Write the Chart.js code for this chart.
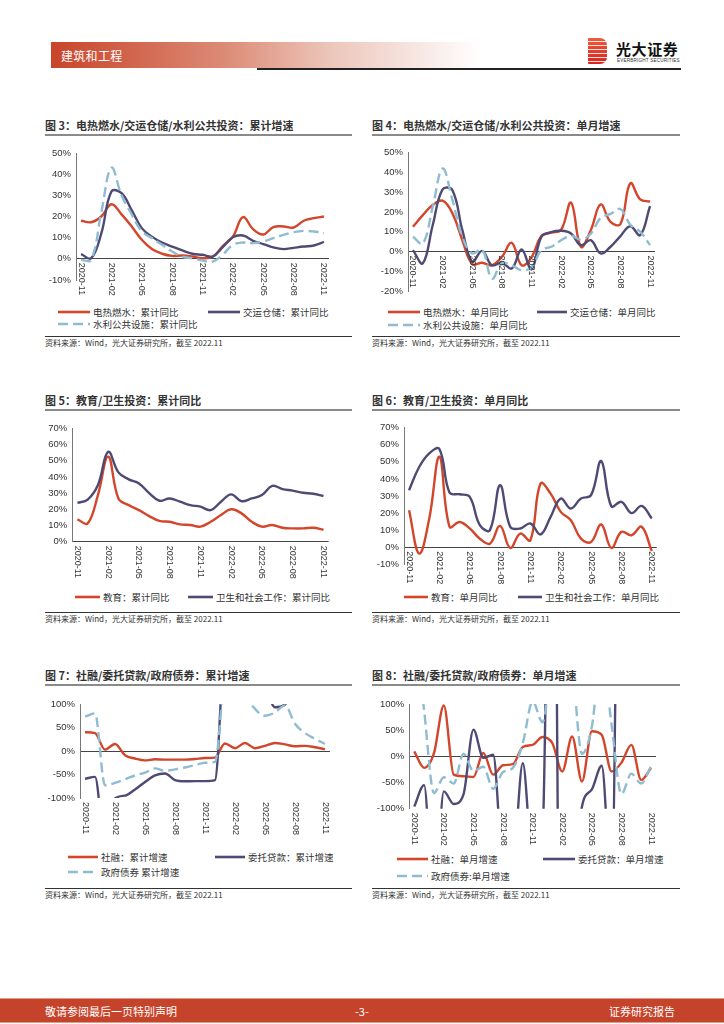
<!DOCTYPE html>
<html lang="zh-CN">
<head>
<meta charset="UTF-8" />
<title>建筑和工程</title>
<script src="https://cdn.jsdelivr.net/npm/chart.js"></script>
<style>
  body {
    margin: 0;
    width: 724px;
    height: 1024px;
    position: relative;
    overflow: hidden;
    background: #fff;
    font-family: 'Noto Sans CJK SC', sans-serif;
    color: #333;
  }
  .abs { position: absolute; }
  canvas { position: absolute; }

  .band {
    left: 51px; top: 42px; width: 430px; height: 26px;
    background: linear-gradient(to right, #c8442a 0%, #dc8a75 40%, #ecc6bb 65%, #fff 100%);
  }
  .band span {
    position: absolute; left: 10px; top: 5px;
    color: #fff; font-size: 12px; letter-spacing: 0.3px;
  }
  .hline { left: 257px; top: 68px; width: 424px; height: 2px; background: #222; }
  .logo-icon {
    left: 588px; top: 38px; width: 19px; height: 26px;
    border-radius: 1px 7px 7px 1px;
    background:
      repeating-linear-gradient(to bottom, transparent 0 3px, rgba(255,255,255,0.85) 3px 4px),
      linear-gradient(to bottom, #ee5b3a, #d8231f);
  }
  .logo-name { left: 616px; top: 38px; font-size: 15px; font-weight: bold; color: #111; letter-spacing: 0.6px; }
  .logo-en { left: 617px; top: 58px; font-size: 4.6px; color: #333; letter-spacing: 0.2px; font-family: 'Liberation Sans', sans-serif; }

  .title { font-size: 11px; font-weight: bold; color: #333; white-space: nowrap; }
  .rule { height: 2px; background: #8a8a8a; }
  .srcline { height: 1px; background: #333; }
  .src { font-size: 8px; color: #333; white-space: nowrap; }
  .leg { font-size: 9.5px; color: #333; white-space: nowrap; display: flex; align-items: center; }
  .leg svg { margin-right: 3px; }

  .footer {
    left: 0; top: 998px; width: 724px; height: 23px;
    background: #c5432a;
    border-top: 1px solid #e29a87;
    border-bottom: 1px solid #e29a87;
    color: #fff; font-size: 11px;
  }
  .footer span { position: absolute; top: 4px; }
</style>
</head>
<body>

<div class="abs band"><span>建筑和工程</span></div>
<div class="abs hline"></div>
<div class="abs logo-icon"></div>
<div class="abs logo-name">光大证券</div>
<div class="abs logo-en">EVERBRIGHT SECURITIES</div>

<div id="panels"></div>

<canvas id="c3"></canvas>
<canvas id="c4"></canvas>
<canvas id="c5"></canvas>
<canvas id="c6"></canvas>
<canvas id="c7"></canvas>
<canvas id="c8"></canvas>

<div class="abs footer">
  <span style="left:45px">敬请参阅最后一页特别声明</span>
  <span style="left:355px">-3-</span>
  <span style="left:609px">证券研究报告</span>
</div>

<script>
  // monthly, 2020-11 .. 2022-11
  const months = ['2020-11','2020-12','2021-01','2021-02','2021-03','2021-04','2021-05','2021-06','2021-07','2021-08','2021-09','2021-10','2021-11','2021-12','2022-01','2022-02','2022-03','2022-04','2022-05','2022-06','2022-07','2022-08','2022-09','2022-10','2022-11'];

  // 图3 累计
  const elecCum  = [18, 17.3, 20, 25.8, 21, 15.3, 9, 4.6, 2.4, 1.4, 1.6, 1.1, 0.3, 1, 6, 10.5, 19.7, 14, 11.5, 15, 15.3, 14.8, 18, 19.2, 20];
  const transCum = [2.2, 0.3, 12, 31.8, 31, 23, 14.5, 10.5, 7.7, 5.8, 4, 2.4, 1.9, 1.1, 5.5, 10.2, 11, 8.5, 7, 5.4, 4.6, 5.2, 5.8, 6.3, 8];
  const waterCum = [-0.5, -0.5, 22, 43, 30, 21, 13, 9.8, 6.6, 3.5, 1, 0.3, -0.8, -1.3, 2, 6.6, 7.7, 7.4, 8.2, 9.8, 11.3, 12.6, 13.2, 12.9, 12.1];

  // 图4 单月
  const elecMon  = [12.5, 18.4, 23.5, 25.7, 19.3, 5.7, -6.4, -5.7, -7, -2.7, 4.4, -7, -3, 7.8, 9.5, 11, 24.7, 2.4, 10.8, 23.8, 15, 13.9, 34.5, 26.4, 25.3];
  const transMon = [0.7, -6, 13.3, 31.4, 31, 10.8, -5.2, 0.3, -7, -5.7, -8.6, 1, -9, 7.4, 9.8, 10.5, 9.1, 3.2, 5.7, -1, 2.4, 7.8, 12.8, 8.3, 23];
  const waterMon = [7.4, 4, 22.6, 42, 26, 7.4, -1, 1, -13.7, -6, -7, -9.5, -8, 0.7, 2.4, 5.7, 8, 6, 9, 17, 19, 21.5, 13.5, 10, 3.2];

  // 图5 累计
  const eduCum    = [13.8, 11.3, 28.8, 52.5, 26.7, 22.6, 19.5, 15.8, 12.8, 12.3, 10.7, 10.3, 9.3, 12.3, 16.5, 20, 17.5, 12.3, 9.3, 10.3, 8.6, 8.2, 8.2, 8.6, 7.4];
  const healthCum = [24, 26, 35, 55.5, 42.8, 38.5, 36, 30, 25.3, 26.7, 24.7, 22.6, 21.6, 19.5, 24.7, 29.2, 25, 26.7, 28.8, 34.4, 32.5, 31.5, 30.2, 29.6, 28.2];

  // 图6 单月
  const eduMon    = [21.7, -3.7, 16.8, 53, 12, 14.8, 11, 5, 2.1, 12.5, -0.4, 8, 4.1, 37.3, 31.4, 20.7, 15.8, 5, 3.1, 13.3, -0.4, 9, 7, 12, -2.3];
  const healthMon = [33.4, 47, 55, 57.5, 32, 31, 29.5, 13, 10, 36.3, 12, 11, 13.9, 7.5, 17.8, 28.5, 22.7, 28.5, 30.5, 50.4, 24, 26.6, 20, 24.2, 16.8];

  // 图7 累计 (values beyond +/-100% fall outside the axis)
  const sfCum  = [40, 38, 3, 15, -9, -16, -20, -17.7, -18.4, -18.4, -18.4, -17, -15, -14, 16, 6, 17, 6, 11, 17, 14, 10, 11, 8, 4];
  const entCum = [-59, -55, -200, -101, -95, -82, -66, -52, -48, -62, -64.5, -64, -64, -62, 250, 300, 300, 250, 150, 93, 99, 140, 160, 160, 160];
  const govCum = [73, 80, -73, -68, -60, -52, -46, -37, -42, -39, -35, -30, -25, -23, 180, 300, 130, 90, 75, 82, 97, 58, 38, 26, 15];

  // 图8 单月
  const sfMon  = [9.5, -22, 6, 97, -35, -38, -39.5, 6.4, -35, -17, -15, 18, 22, 37, 25, -29, 38, -48, 48, 41, -29, -12, 22, -45, -22];
  const entMon = [-96, -55, -300, -67, -91, -72, 51, -3, 3, -200, -200, -13, -200, -150, 900, -900, -300, -96, -63, -18, -250, 900, 600, 400, 300];
  const govMon = [250, 88, -70, -40, -52, 5, -28, -20, -62, -30, -22, 25, 105, 65, 200, 300, 180, 5, 57, 200, 60, -72, -33, -52, -19];

  const RED = '#d2462b', PURPLE = '#4e4a73', BLUE = '#8fbcd0';
  const NUM_FONT = "'Liberation Sans', 'Noto Sans CJK SC', sans-serif";
  const SOURCE = '资料来源：Wind，光大证券研究所，截至 2022.11';

  // x labels rotated clockwise, every third month, hanging from the zero line or the plot bottom
  const xLabels = {
    id: 'xLabels',
    afterDraw(chart, args, opts) {
      const { ctx, chartArea } = chart;
      const xs = chart.scales.x, ys = chart.scales.y;
      const y0 = opts.fromZero ? ys.getPixelForValue(0) : chartArea.bottom;
      ctx.save();
      ctx.font = '9px ' + NUM_FONT;
      ctx.fillStyle = '#333';
      ctx.textAlign = 'left';
      ctx.textBaseline = 'middle';
      months.forEach((m, i) => {
        if (i % 3) return;
        ctx.save();
        ctx.translate(xs.getPixelForValue(i), y0 + 4);
        ctx.rotate(Math.PI / 2);
        ctx.fillText(m, 0, 0);
        ctx.restore();
      });
      ctx.restore();
    }
  };

  function drawChart(id, box, area, yr, series, mode) {
    const cv = document.getElementById(id);
    cv.style.left = box.x + 'px';
    cv.style.top = box.y + 'px';
    cv.width = box.w;
    cv.height = box.h;
    new Chart(cv, {
      type: 'line',
      data: {
        labels: months,
        datasets: series.map(s => ({
          data: s.data,
          borderColor: s.color,
          borderWidth: 2.4,
          borderDash: s.dash ? [10, 5] : [],
          pointRadius: 0,
          tension: 0.4,
          cubicInterpolationMode: mode || 'default'
        }))
      },
      options: {
        responsive: false,
        animation: false,
        events: [],
        layout: {
          padding: { left: 0, right: box.x + box.w - area.r, top: area.t - box.y, bottom: box.y + box.h - area.b }
        },
        plugins: {
          legend: { display: false },
          tooltip: { enabled: false },
          xLabels: { fromZero: yr.fromZero }
        },
        scales: {
          x: { display: false, offset: true },
          y: {
            min: yr.min, max: yr.max,
            afterFit: s => { s.width = area.l - box.x; },
            ticks: {
              stepSize: yr.step,
              callback: v => v + '%',
              color: '#333',
              font: { family: NUM_FONT, size: 9.5 },
              padding: 5
            },
            grid: {
              drawTicks: false,
              color: c => (c.tick && c.tick.value === 0) ? '#444' : 'rgba(0,0,0,0)'
            },
            border: { color: '#777' }
          }
        }
      },
      plugins: [xLabels]
    });
  }

  // titles, rules, legends, source lines
  const panels = document.getElementById('panels');
  function add(cls, style, html) {
    const d = document.createElement('div');
    d.className = 'abs ' + cls;
    Object.assign(d.style, style);
    if (html) d.innerHTML = html;
    panels.appendChild(d);
  }
  function legendItem(x, y, len, color, dash, text) {
    const svg = `<svg width="${len}" height="6"><line x1="0" y1="3" x2="${len}" y2="3" stroke="${color}" stroke-width="2.6" ${dash ? 'stroke-dasharray="10 5"' : ''}/></svg>`;
    add('leg', { left: x + 'px', top: (y - 7) + 'px', height: '14px' }, svg + text);
  }
  function panel(x, w, titleY, ruleY, srcY, title) {
    add('title', { left: x + 'px', top: (titleY - 8) + 'px' }, title);
    add('rule', { left: x + 'px', top: ruleY + 'px', width: w + 'px' });
    add('srcline', { left: x + 'px', top: srcY + 'px', width: w + 'px' });
    add('src', { left: x + 'px', top: (srcY + 1) + 'px' }, SOURCE);
  }

  panel(45, 307, 125, 134, 336, '图 3：电热燃水/交运仓储/水利公共投资：累计增速');
  panel(372, 308, 125, 134, 336, '图 4：电热燃水/交运仓储/水利公共投资：单月增速');
  panel(45, 307, 400, 409, 612, '图 5：教育/卫生投资：累计同比');
  panel(372, 308, 400, 409, 612, '图 6：教育/卫生投资：单月同比');
  panel(45, 307, 675, 684, 888, '图 7：社融/委托贷款/政府债券：累计增速');
  panel(372, 308, 675, 684, 888, '图 8：社融/委托贷款/政府债券：单月增速');

  legendItem(58, 312, 32, RED, false, '电热燃水：累计同比');
  legendItem(208, 312, 32, PURPLE, false, '交运仓储：累计同比');
  legendItem(58, 324, 32, BLUE, true, '水利公共设施：累计同比');

  legendItem(388, 312, 32, RED, false, '电热燃水：单月同比');
  legendItem(537, 312, 30, PURPLE, false, '交运仓储：单月同比');
  legendItem(388, 325, 32, BLUE, true, '水利公共设施：单月同比');

  legendItem(75, 597, 25, RED, false, '教育：累计同比');
  legendItem(188, 597, 25, PURPLE, false, '卫生和社会工作：累计同比');

  legendItem(404, 597, 24, RED, false, '教育：单月同比');
  legendItem(518, 597, 24, PURPLE, false, '卫生和社会工作：单月同比');

  legendItem(68, 857, 30, RED, false, '社融：累计增速');
  legendItem(215, 857, 30, PURPLE, false, '委托贷款：累计增速');
  legendItem(68, 872, 30, BLUE, true, '政府债券 累计增速');

  legendItem(397, 859, 31, RED, false, '社融：单月增速');
  legendItem(543, 859, 32, PURPLE, false, '委托贷款：单月增速');
  legendItem(397, 876, 31, BLUE, true, '政府债券:单月增速');

  drawChart('c3', { x: 40, y: 140, w: 305, h: 165 }, { l: 76, r: 329, t: 153, b: 280 },
    { min: -10, max: 50, step: 10, fromZero: true },
    [{ data: waterCum, color: BLUE, dash: true }, { data: transCum, color: PURPLE }, { data: elecCum, color: RED }]);

  drawChart('c4', { x: 365, y: 140, w: 305, h: 165 }, { l: 408, r: 655, t: 152.7, b: 291 },
    { min: -20, max: 50, step: 10, fromZero: true },
    [{ data: waterMon, color: BLUE, dash: true }, { data: transMon, color: PURPLE }, { data: elecMon, color: RED }]);

  drawChart('c5', { x: 40, y: 415, w: 305, h: 180 }, { l: 72.3, r: 328.6, t: 428.3, b: 541.7 },
    { min: 0, max: 70, step: 10, fromZero: false },
    [{ data: healthCum, color: PURPLE }, { data: eduCum, color: RED }]);

  drawChart('c6', { x: 365, y: 415, w: 305, h: 180 }, { l: 404, r: 656.8, t: 427.7, b: 564.3 },
    { min: -10, max: 70, step: 10, fromZero: true },
    [{ data: healthMon, color: PURPLE }, { data: eduMon, color: RED }]);

  drawChart('c7', { x: 40, y: 690, w: 305, h: 155 }, { l: 80, r: 330, t: 704, b: 798 },
    { min: -100, max: 100, step: 50, fromZero: false },
    [{ data: govCum, color: BLUE, dash: true }, { data: entCum, color: PURPLE }, { data: sfCum, color: RED }], 'monotone');

  drawChart('c8', { x: 365, y: 690, w: 305, h: 160 }, { l: 409.3, r: 656, t: 704, b: 808.7 },
    { min: -100, max: 100, step: 50, fromZero: false },
    [{ data: govMon, color: BLUE, dash: true }, { data: entMon, color: PURPLE }, { data: sfMon, color: RED }], 'monotone');
</script>
</body>
</html>
